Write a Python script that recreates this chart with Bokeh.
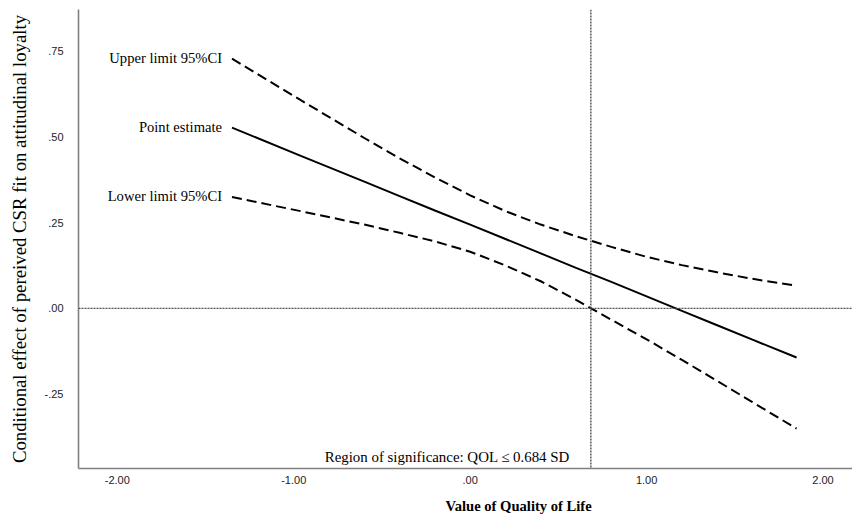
from bokeh.plotting import figure
from bokeh.models import Range1d, FixedTicker, Span, Title, ColumnDataSource
from bokeh.core.properties import value
from bokeh.embed import file_html
from bokeh.resources import INLINE

# ---- data ----
qol = [-1.35, -0.96, -0.6, -0.4, -0.2, 0.0, 0.2, 0.4, 0.6, 0.8, 1.0, 1.2, 1.4, 1.6, 1.85]
point_estimate = [0.526, 0.444, 0.369, 0.327, 0.285, 0.244, 0.202, 0.160, 0.118,
                  0.077, 0.035, -0.007, -0.049, -0.091, -0.143]
upper_ci = [0.727, 0.606, 0.496, 0.437, 0.381, 0.329, 0.283, 0.244, 0.210,
            0.179, 0.150, 0.126, 0.105, 0.086, 0.066]
lower_ci = [0.324, 0.283, 0.244, 0.220, 0.195, 0.165, 0.125, 0.079, 0.025,
            -0.033, -0.090, -0.150, -0.211, -0.273, -0.350]

series_labels = ["Upper limit 95%CI", "Point estimate", "Lower limit 95%CI"]
jn_point = 0.684
region_text = "Region of significance: QOL \u2264 0.684 SD"

x_ticks = [-2.0, -1.0, 0.0, 1.0, 2.0]
x_tick_labels = ["-2.00", "-1.00", ".00", "1.00", "2.00"]
y_ticks = [-0.25, 0.0, 0.25, 0.5, 0.75]
y_tick_labels = ["-.25", ".00", ".25", ".50", ".75"]

x_title = "Value of Quality of Life"
y_title = "Conditional effect of pereived CSR fit on attitudinal loyalty"

SERIF = "Liberation Serif"
SANS = "Liberation Sans"

p = figure(width=852, height=519, output_backend="svg", toolbar_location=None,
           x_range=Range1d(-2.22, 2.167), y_range=Range1d(-0.466, 0.870),
           min_border_left=78, min_border_right=0, min_border_top=9,
           min_border_bottom=51)
p.outline_line_color = None
p.grid.visible = False
p.background_fill_color = "white"
p.border_fill_color = "white"

for ax in (p.xaxis[0], p.yaxis[0]):
    ax.axis_line_color = "#808080"
    ax.axis_line_width = 1.6
    ax.major_tick_line_color = None
    ax.minor_tick_line_color = None
    ax.major_tick_out = 0
    ax.major_tick_in = 0
    ax.minor_tick_out = 0
    ax.major_label_text_font = SANS
    ax.major_label_text_font_size = "11px"
    ax.major_label_text_color = "#222222"

p.xaxis.ticker = FixedTicker(ticks=x_ticks)
p.xaxis.major_label_overrides = dict(zip(x_ticks, x_tick_labels))
p.xaxis.major_label_standoff = 7
# blank spacer label to push the title below down
p.xaxis.axis_label = " "
p.xaxis.axis_label_text_font_size = "4px"
p.xaxis.axis_label_standoff = 3

p.yaxis.ticker = FixedTicker(ticks=y_ticks)
p.yaxis.major_label_overrides = dict(zip(y_ticks, y_tick_labels))
p.yaxis.major_label_standoff = 15
p.yaxis.axis_label = y_title
p.yaxis.axis_label_text_font = SERIF
p.yaxis.axis_label_text_font_style = "normal"
p.yaxis.axis_label_text_font_size = "18.8px"
p.yaxis.axis_label_text_color = "black"
p.yaxis.axis_label_standoff = 12

# x-axis title (placed right of centre, as in the reference)
p.add_layout(Title(text=x_title, align="left", offset=367, vertical_align="top",
                   standoff=0, text_font=SERIF, text_font_style="bold",
                   text_font_size="14.6px", text_color="black"), "below")

# reference lines
p.add_layout(Span(location=0, dimension="width", line_color="#505050",
                  line_width=1.4, line_dash="2 1"))
p.add_layout(Span(location=jn_point, dimension="height", line_color="#505050",
                  line_width=1.4, line_dash="2 1"))

src = ColumnDataSource(dict(x=qol, pe=point_estimate, up=upper_ci, lo=lower_ci))
p.line("x", "up", source=src, line_color="black", line_width=2, line_dash="10 5")
p.line("x", "pe", source=src, line_color="black", line_width=2)
p.line("x", "lo", source=src, line_color="black", line_width=2, line_dash="10 5")

lab_src = ColumnDataSource(dict(x=[qol[0]] * 3,
                                y=[upper_ci[0], point_estimate[0], lower_ci[0]],
                                t=series_labels))
p.text("x", "y", text="t", source=lab_src, x_offset=-10, y_offset=-1,
       text_align="right", text_baseline="middle", text_font=value(SERIF),
       text_font_size="14.6px", text_color="black")

p.text(x=[jn_point], y=[p.y_range.start], text=[region_text], x_offset=-21,
       y_offset=-12, text_align="right", text_baseline="alphabetic",
       text_font=value(SERIF), text_font_size="14.9px", text_color="black")

open("out.html", "w").write(file_html(p, INLINE))
